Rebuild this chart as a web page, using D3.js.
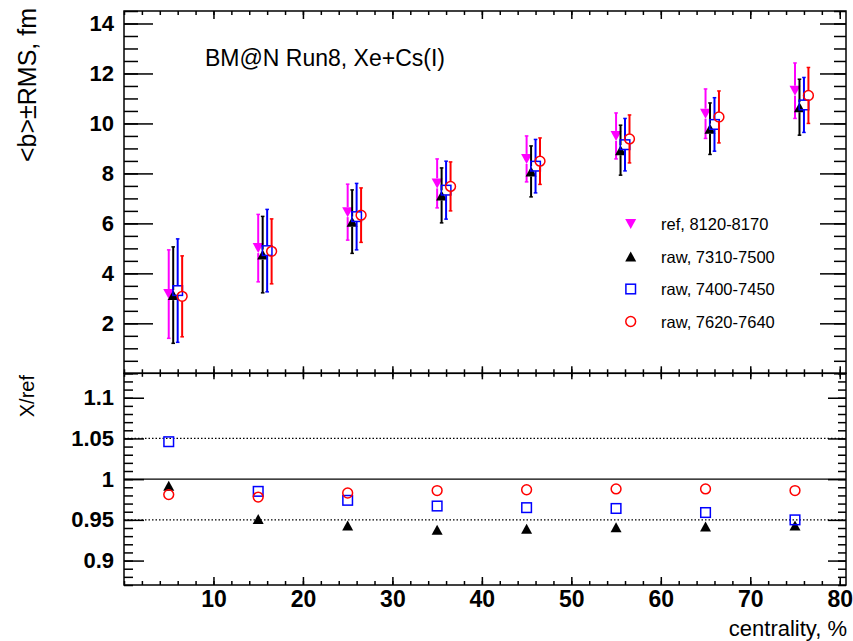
<!DOCTYPE html>
<html>
<head>
<meta charset="utf-8">
<script src="https://cdn.jsdelivr.net/npm/d3@7"></script>
<style>
body { margin: 0; background: #fff; }
text { font-family: "Liberation Sans", Arial, sans-serif; }
</style>
</head>
<body>
<div id="chart"></div>
<script>
// centrality bins
var centrality = [5, 15, 25, 35, 45, 55, 65, 75];
var seriesNames = ["ref, 8120-8170", "raw, 7310-7500", "raw, 7400-7450", "raw, 7620-7640"];

// <b> mean and RMS per series
var refMean  = [3.17, 5.01, 6.45, 7.60, 8.58, 9.50, 10.39, 11.31];
var refRms   = [1.77, 1.35, 1.12, 0.98, 0.92, 0.92, 0.99, 1.11];
var raw1Mean = [3.13, 4.75, 6.07, 7.12, 8.08, 8.93, 9.79, 10.65];
var raw1Rms  = [1.93, 1.53, 1.27, 1.10, 1.02, 1.00, 1.03, 1.12];
var raw2Mean = [3.31, 4.91, 6.27, 7.33, 8.29, 9.15, 9.96, 10.74];
var raw2Rms  = [2.07, 1.65, 1.33, 1.16, 1.07, 1.05, 1.07, 1.10];
var raw3Mean = [3.08, 4.88, 6.33, 7.48, 8.49, 9.38, 10.26, 11.12];
var raw3Rms  = [1.62, 1.30, 1.09, 0.98, 0.93, 0.96, 1.04, 1.12];

// X/ref ratios
var raw1Ratio = [0.992, 0.951, 0.943, 0.938, 0.939, 0.941, 0.942, 0.943];
var raw2Ratio = [1.046, 0.985, 0.974, 0.967, 0.965, 0.964, 0.959, 0.950];
var raw3Ratio = [0.981, 0.978, 0.983, 0.986, 0.987, 0.988, 0.988, 0.986];

// tick labels
var xTicks = [10, 20, 30, 40, 50, 60, 70, 80];
var yTopTicks = [2, 4, 6, 8, 10, 12, 14];
var yBotTicks = [0.9, 0.95, 1, 1.05, 1.1];
var refLines = [0.95, 1, 1.05];

var svgWidth = 853, svgHeight = 641;
// pad edges (avoid window.top clash)
var padL = 124, padR = 846, padT = 11, padM = 373.3, padB = 585;

var svg = d3.select("#chart").append("svg")
    .attr("width", svgWidth)
    .attr("height", svgHeight);

var x = d3.scaleLinear().domain([0, 80.7]).range([padL, padR]);
var yTop = d3.scaleLinear().domain([0, 14.5]).range([padM, padT]);
var yBot = d3.scaleLinear().domain([0.87, 1.13]).range([padB, padM]);

var colors = ["#ff00ff", "#000000", "#0000ff", "#ff0000"];
var shapes = ["down", "up", "square", "circle"];
var shift = [0, 0.5, 1.0, 1.5];

var xMinor = d3.range(0, 80.01, 2);
var yTopMinor = d3.range(0, 14.51, 0.5);
var yBotMinor = d3.range(0.87, 1.1301, 0.01).map(v => +v.toFixed(2));

function tickGroup(axis, tx, ty) {
  var g = svg.append("g")
      .attr("transform", `translate(${tx},${ty})`)
      .call(axis);
  g.select(".domain").remove();
  g.selectAll("line").attr("stroke", "#000").attr("stroke-width", 1.5);
  return g;
}

// top panel ticks
tickGroup(d3.axisLeft(yTop).tickValues(yTopMinor).tickSize(-14).tickFormat(""), padL, 0);
var ylab = tickGroup(d3.axisLeft(yTop).tickValues(yTopTicks).tickSize(-29).tickPadding(10).tickFormat(d3.format("d")), padL, 0);
tickGroup(d3.axisRight(yTop).tickValues(yTopMinor).tickSize(-12).tickFormat(""), padR, 0);
tickGroup(d3.axisRight(yTop).tickValues(yTopTicks).tickSize(-26).tickFormat(""), padR, 0);
tickGroup(d3.axisTop(x).tickValues(xMinor).tickSize(-4).tickFormat(""), 0, padT);
tickGroup(d3.axisTop(x).tickValues(xTicks).tickSize(-8).tickFormat(""), 0, padT);
tickGroup(d3.axisBottom(x).tickValues(xMinor).tickSize(-4).tickFormat(""), 0, padM);
tickGroup(d3.axisBottom(x).tickValues(xTicks).tickSize(-7).tickFormat(""), 0, padM);

// bottom panel ticks
tickGroup(d3.axisLeft(yBot).tickValues(yBotMinor).tickSize(-9).tickFormat(""), padL, 0);
var ylab2 = tickGroup(d3.axisLeft(yBot).tickValues(yBotTicks).tickSize(-20).tickPadding(10).tickFormat(d => String(+d.toFixed(2))), padL, 0);
tickGroup(d3.axisRight(yBot).tickValues(yBotMinor).tickSize(-8).tickFormat(""), padR, 0);
tickGroup(d3.axisRight(yBot).tickValues(yBotTicks).tickSize(-18).tickFormat(""), padR, 0);
tickGroup(d3.axisTop(x).tickValues(xMinor).tickSize(-3.5).tickFormat(""), 0, padM);
tickGroup(d3.axisTop(x).tickValues(xTicks).tickSize(-6).tickFormat(""), 0, padM);
tickGroup(d3.axisBottom(x).tickValues(xMinor).tickSize(-4).tickFormat(""), 0, padB);
var xlab = tickGroup(d3.axisBottom(x).tickValues(xTicks).tickSize(-8).tickPadding(6), 0, padB);

[ylab, ylab2].forEach(g => g.selectAll("text")
    .attr("font-size", 22).attr("font-weight", "bold").attr("fill", "#000")
    .style("font-family", "Liberation Sans, Arial, sans-serif"));
xlab.selectAll("text")
    .attr("font-size", 23).attr("font-weight", "bold").attr("fill", "#000")
    .style("font-family", "Liberation Sans, Arial, sans-serif");

// frames
svg.append("rect").attr("x", padL).attr("y", padT)
    .attr("width", padR - padL).attr("height", padM - padT)
    .attr("fill", "none").attr("stroke", "#000").attr("stroke-width", 1.5);
svg.append("rect").attr("x", padL).attr("y", padM)
    .attr("width", padR - padL).attr("height", padB - padM)
    .attr("fill", "none").attr("stroke", "#000").attr("stroke-width", 1.5);

// reference lines in ratio panel
svg.selectAll("line.ref")
    .data(refLines)
    .enter()
    .append("line")
    .attr("x1", padL).attr("x2", padR)
    .attr("y1", d => yBot(d)).attr("y2", d => yBot(d))
    .attr("stroke", "#000")
    .attr("stroke-width", d => d === 1 ? 1.3 : 1.2)
    .attr("stroke-dasharray", d => d === 1 ? null : "1.5,2");

function drawMarker(g, shape, color, cx, cy) {
  if (shape === "down" || shape === "up") {
    var h = 10, w = 11;
    var pts = shape === "down"
      ? [[cx - w / 2, cy - h / 2], [cx + w / 2, cy - h / 2], [cx, cy + h / 2]]
      : [[cx - w / 2, cy + h / 2], [cx + w / 2, cy + h / 2], [cx, cy - h / 2]];
    g.append("path").attr("d", "M" + pts.join("L") + "Z").attr("fill", color);
  } else if (shape === "square") {
    g.append("rect").attr("x", cx - 4.8).attr("y", cy - 4.8)
      .attr("width", 9.6).attr("height", 9.6)
      .attr("fill", "none").attr("stroke", color).attr("stroke-width", 1.5);
  } else {
    g.append("circle").attr("cx", cx).attr("cy", cy).attr("r", 4.9)
      .attr("fill", "none").attr("stroke", color).attr("stroke-width", 1.5);
  }
}

// top panel: mean with RMS bars
var means = [refMean, raw1Mean, raw2Mean, raw3Mean];
var rmss = [refRms, raw1Rms, raw2Rms, raw3Rms];
means.forEach(function(m, s) {
  var g = svg.append("g");
  centrality.forEach(function(c, i) {
    var cx = x(c + shift[s]);
    var cy = yTop(m[i]);
    var y1 = yTop(m[i] + rmss[s][i]), y2 = yTop(m[i] - rmss[s][i]);
    [[y1, cy - 5], [cy + 5, y2]].forEach(function(seg) {
      g.append("line").attr("x1", cx).attr("x2", cx)
        .attr("y1", seg[0]).attr("y2", seg[1])
        .attr("stroke", colors[s]).attr("stroke-width", 2);
    });
    [y1, y2].forEach(function(yy) {
      g.append("line").attr("x1", cx - 1.8).attr("x2", cx + 1.8)
        .attr("y1", yy).attr("y2", yy)
        .attr("stroke", colors[s]).attr("stroke-width", 1.5);
    });
    drawMarker(g, shapes[s], colors[s], cx, cy);
  });
});

// bottom panel: ratios
var ratios = [null, raw1Ratio, raw2Ratio, raw3Ratio];
ratios.forEach(function(r, s) {
  if (!r) return;
  var g = svg.append("g");
  centrality.forEach(function(c, i) {
    drawMarker(g, shapes[s], colors[s], x(c), yBot(r[i]));
  });
});

// legend
var legend = svg.append("g");
legend.append("rect").attr("x", 608).attr("y", 205).attr("width", 192).attr("height", 128)
    .attr("fill", "#fff");
seriesNames.forEach(function(name, i) {
  var ly = 224 + i * 32.5;
  drawMarker(legend, shapes[i], colors[i], 630.7, ly);
  legend.append("text").attr("x", 661).attr("y", ly + 6)
    .attr("font-size", 16.5).text(name);
});

// titles
svg.append("text").attr("x", 205).attr("y", 65.5)
    .attr("font-size", 23).text("BM@N Run8, Xe+Cs(I)");

svg.append("text")
    .attr("transform", "translate(36,8) rotate(-90)")
    .attr("text-anchor", "end")
    .attr("font-size", 25)
    .text("<b>\u00B1RMS, fm");

svg.append("text")
    .attr("transform", "translate(34,375) rotate(-90)")
    .attr("text-anchor", "end")
    .attr("font-size", 20)
    .text("X/ref");

svg.append("text")
    .attr("x", 847).attr("y", 636)
    .attr("text-anchor", "end")
    .attr("font-size", 22)
    .text("centrality, %");
</script>
</body>
</html>
